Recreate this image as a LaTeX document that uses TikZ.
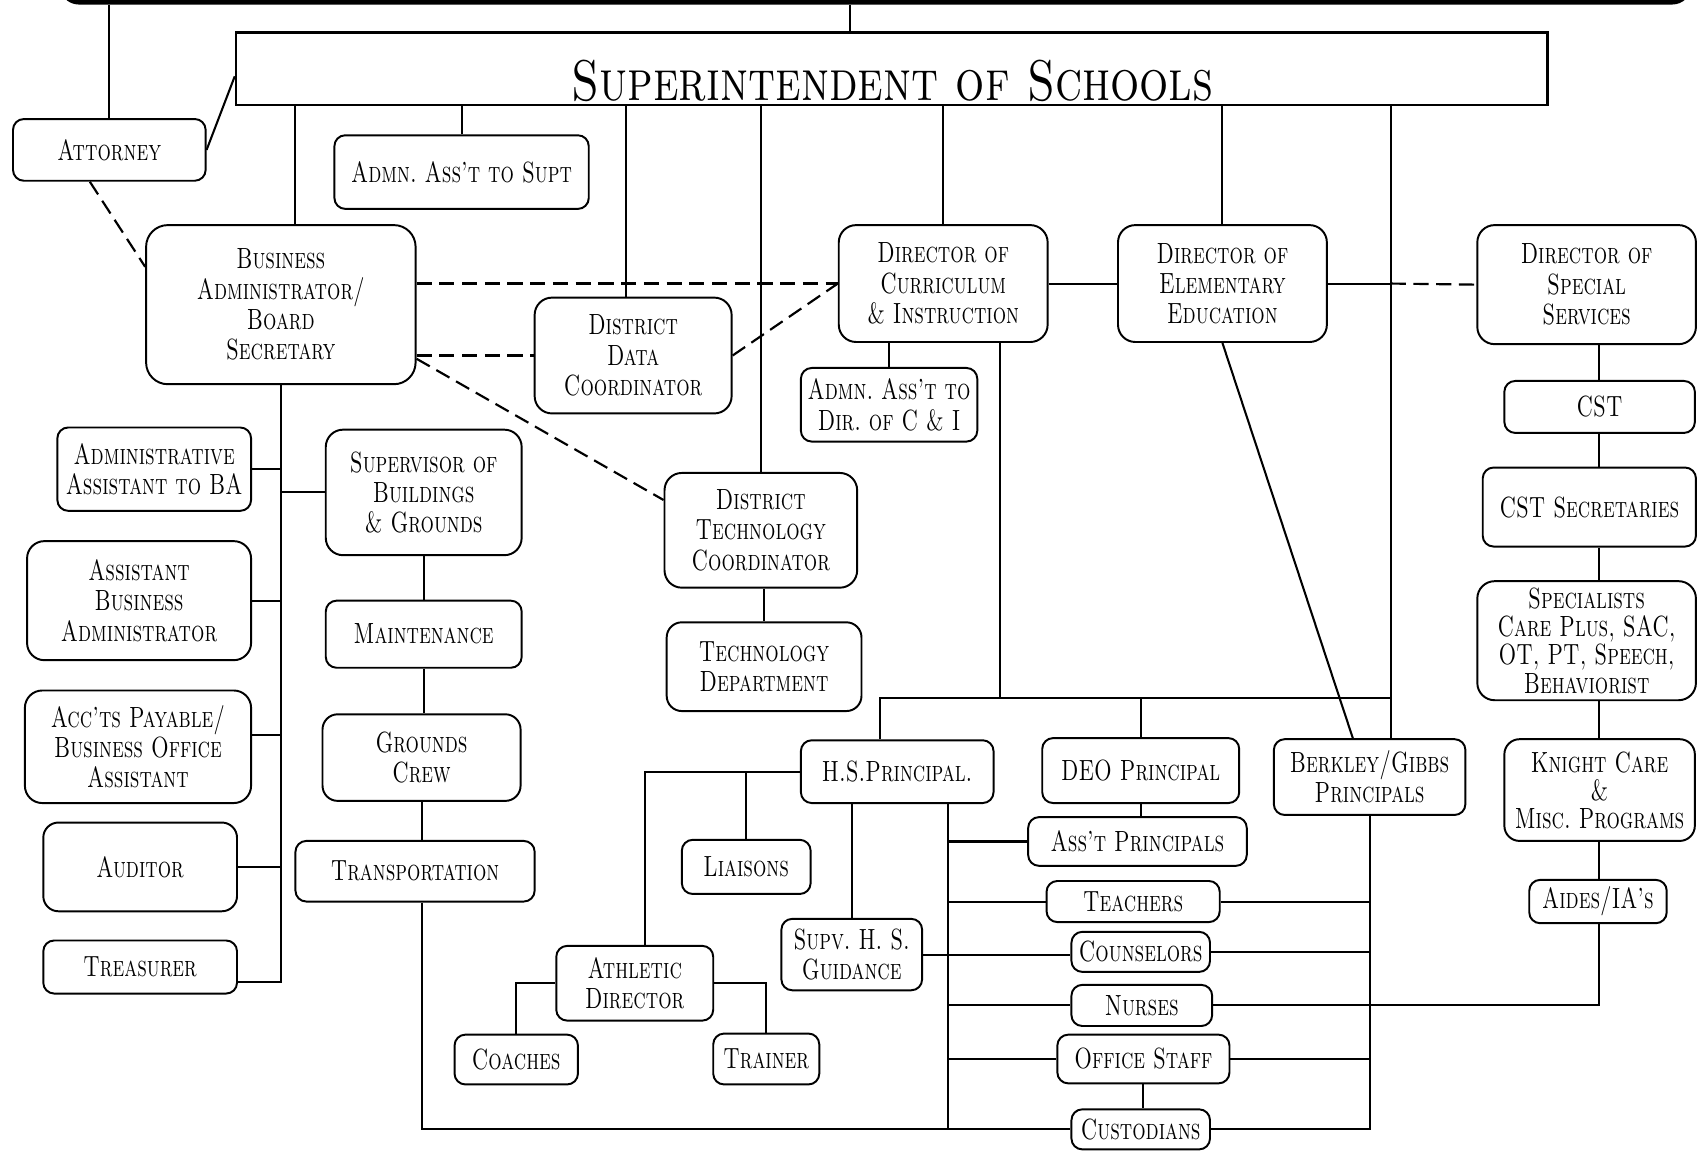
\documentclass[tikz,border=0pt]{standalone}
\usepackage{fontspec}
\newfontfamily\scf{lmromancaps10-regular}[Extension=.otf, FakeStretch=0.72, Ligatures=TeX]
\newfontfamily\scft{lmromancaps10-regular}[Extension=.otf, FakeStretch=0.8, Ligatures=TeX]
\newcommand\lab{\frenchspacing\scf\fontsize{13.5}{14}\selectfont}
\newcommand\labs{\frenchspacing\scf\fontsize{13.5}{13}\selectfont}
\newcommand\ttl{\scft\fontsize{26.5}{28}\selectfont}
\tikzset{
  box/.style={draw, line width=0.9pt, rounded corners=5pt, align=center, inner sep=0pt, font=\lab},
  bx/.style 2 args={box, minimum width=#1pt, minimum height=#2pt},
  conn/.style={line width=0.95pt},
  dashline/.style={line width=1pt, dash pattern=on 7pt off 3.5pt},
}
\begin{document}
\begin{tikzpicture}[x=0.5pt,y=-0.5pt]
\useasboundingbox (0,0) rectangle (1568,1064);
% top board (cut off) and superintendent
\node[draw, line width=2.2pt, rounded corners=8pt, minimum width=752pt, minimum height=31pt] (board) at (809,-29) {};
\node[draw, line width=1.1pt, minimum width=606pt, minimum height=33.5pt] (sup) at (824,63.5) {};
\node[font=\ttl, inner sep=0pt] (suptitle) at (824.5,75) {Superintendent of Schools};
% boxes
\node[bx={89}{28.5}] (attorney) at (101,138.5) {Attorney};
\node[bx={117.5}{34}] (adminsupt) at (426.5,159) {Admn. Ass't to Supt};
\node[bx={124.5}{73.5}, rounded corners=10pt] (ba) at (259.5,281.5) {Business\\Administrator/\\Board\\Secretary};
\node[bx={91}{53.5}, rounded corners=8pt] (ddc) at (585,328.5) {District\\Data\\Coordinator};
\node[bx={96.5}{54}, rounded corners=8pt] (dci) at (871.5,262) {Director of\\Curriculum\\\& Instruction};
\node[bx={96.5}{54}, rounded corners=8pt] (dee) at (1129.5,262) {Director of\\Elementary\\Education};
\node[bx={101}{55}, rounded corners=8pt] (dss) at (1466,263) {Director of\\Special\\Services};
\node[bx={81.5}{34}] (aadir) at (821.5,374) {Admn. Ass't to\\Dir. of C \& I};
\node[bx={89.5}{38.5}] (aaba) at (142.5,433.5) {Administrative\\Assistant to BA};
\node[bx={90.5}{58}, rounded corners=8pt] (sbg) at (391.5,455) {Supervisor of\\Buildings\\\& Grounds};
\node[bx={89}{53}, rounded corners=8pt] (dtc) at (703,490) {District\\Technology\\Coordinator};
\node[bx={88}{24}] (cst) at (1478,376) {CST};
\node[bx={98.5}{36.5}] (csts) at (1468.5,468.5) {CST Secretaries};
\node[bx={103.5}{55}, rounded corners=8pt] (aba) at (128.5,555) {Assistant\\Business\\Administrator};
\node[bx={90.5}{31}] (maint) at (391.5,586) {Maintenance};
\node[bx={90}{41}, rounded corners=7pt] (techdept) at (706,616) {Technology\\Department};
\node[bx={101}{55}, rounded corners=8pt, font=\labs] (spec) at (1466,592) {Specialists\\Care Plus, SAC,\\OT, PT, Speech,\\Behaviorist};
\node[bx={104.5}{52}, rounded corners=8pt] (accts) at (127.5,690) {Acc'ts Payable/\\Business Office\\Assistant};
\node[bx={91.5}{40}, rounded corners=7pt] (grounds) at (389.5,700) {Grounds\\Crew};
\node[bx={89}{29}] (hsp) at (829,713) {H.S.Principal.};
\node[bx={91}{30}] (deo) at (1054,712) {DEO Principal};
\node[bx={88.5}{35}] (berk) at (1265.5,718) {Berkley/Gibbs\\Principals};
\node[bx={88}{47}, rounded corners=7pt, font=\labs] (knight) at (1478,730) {Knight Care\\\&\\Misc. Programs};
\node[bx={89.5}{41}, rounded corners=7pt] (auditor) at (129.5,801) {Auditor};
\node[bx={110.5}{28}] (transp) at (383.5,805) {Transportation};
\node[bx={59.5}{25}] (liaisons) at (689.5,801) {Liaisons};
\node[bx={101}{22.5}] (asstp) at (1051,777.5) {Ass't Principals};
\node[bx={80}{19}] (teachers) at (1047,833) {Teachers};
\node[bx={63.5}{20}] (aides) at (1476.5,833) {Aides/IA's};
\node[bx={65}{33}] (supv) at (787,882) {Supv. H. S.\\Guidance};
\node[bx={64}{18.5}] (couns) at (1054,879.5) {Counselors};
\node[bx={72.5}{34.5}] (athl) at (586.5,908.5) {Athletic\\Director};
\node[bx={89.5}{24.5}] (treas) at (129.5,893.5) {Treasurer};
\node[bx={65}{19}] (nurses) at (1055,929) {Nurses};
\node[bx={57}{23}] (coaches) at (477,979) {Coaches};
\node[bx={49}{23.5}] (trainer) at (708,978.5) {Trainer};
\node[bx={79.5}{22.5}] (office) at (1056.5,978.5) {Office Staff};
\node[bx={64}{18.5}] (cust) at (1054,1043.5) {Custodians};
% helper coordinates
\coordinate (supIn) at (785,30);
\coordinate (busY) at (0,645);
\coordinate (colX) at (1477,0);
\path ([xshift=9.75pt]berk.north) coordinate (berkTop);
\path ([xshift=26.25pt]dci.south) coordinate (ciDrop);
\path ([xshift=23.5pt]hsp.south) coordinate (hsSp);
\path (grounds.south |- transp.south) coordinate (trB);
\path ([xshift=4.75pt]athl.north) coordinate (athT);
\path ([yshift=-6.75pt]treas.east) coordinate (treasJ);
% top connections
\draw[conn] (supIn |- board.south) -- (supIn);
\draw[conn] (attorney.north) -- (attorney.north |- board.south);
\draw[conn] (attorney.east) -- ([yshift=-3.5pt]sup.west);
\draw[dashline] ([xshift=-9pt]attorney.south) -- ([yshift=17.5pt]ba.west);
% superintendent drops
\draw[conn] ([xshift=6.5pt]ba.north) -- ([xshift=6.5pt]ba.north |- sup.south);
\draw[conn] (adminsupt.north) -- (adminsupt.north |- sup.south);
\draw[conn] ([xshift=-3.5pt]ddc.north) -- ([xshift=-3.5pt]ddc.north |- sup.south);
\draw[conn] (dtc.north) -- (dtc.north |- sup.south);
\draw[conn] (dci.north) -- (dci.north |- sup.south);
\draw[conn] (dee.north) -- (dee.north |- sup.south);
\draw[conn] (berkTop) -- (berkTop |- sup.south);
% business administrator dashed links
\draw[dashline] ([yshift=9.75pt]ba.east) -- (dci.west);
\draw[dashline] (ddc.west -| ba.east) -- (ddc.west);
\draw[dashline] ([yshift=-25pt]ba.east) -- ([yshift=14pt]dtc.west);
\draw[dashline] (ddc.east) -- (dci.west);
% directors row
\draw[conn] (dci.east) -- (dee.west);
\draw[conn] (dee.east) -- (dee.east -| berkTop);
\draw[dashline] (dee.east -| berkTop) -- (dss.west);
% curriculum
\draw[conn] (aadir.north) -- (aadir.north |- dci.south);
\draw[conn] (ciDrop) -- (ciDrop |- busY);
\draw[conn] ([xshift=-8pt]hsp.north) -- ([xshift=-8pt]hsp.north |- busY) -- (berkTop |- busY);
\draw[conn] (deo.north) -- (deo.north |- busY);
\draw[conn] (dee.south) -- ([xshift=-7.75pt]berk.north);
\draw[conn] (techdept.north |- dtc.south) -- (techdept.north);
% business spine
\draw[conn] (ba.south) -- (ba.south |- treasJ) -- (treasJ);
\draw[conn] (aaba.east) -- (aaba.east -| ba.south);
\draw[conn] (sbg.west -| ba.south) -- (sbg.west);
\draw[conn] (aba.east) -- (aba.east -| ba.south);
\draw[conn] ([yshift=5.5pt]accts.east) -- ([yshift=5.5pt]accts.east -| ba.south);
\draw[conn] (auditor.east) -- (auditor.east -| ba.south);
% buildings chain
\draw[conn] (sbg.south) -- (maint.north);
\draw[conn] (maint.south) -- (maint.south |- grounds.north);
\draw[conn] (grounds.south) -- (grounds.south |- transp.north);
\draw[conn] (trB) -- (trB |- cust.west) -- (cust.west);
% high school
\draw[conn] (hsp.west) -- (hsp.west -| athT) -- (athT);
\draw[conn] (liaisons.north) -- (liaisons.north |- hsp.west);
\draw[conn] (supv.north) -- (supv.north |- hsp.south);
\draw[conn] (hsSp) -- (hsSp |- cust.west);
\draw[conn] (hsSp |- asstp.west) -- (asstp.west);
\draw[conn] (hsSp |- teachers.west) -- (teachers.west);
\draw[conn] (supv.east) -- (supv.east -| couns.west);
\draw[conn] (hsSp |- nurses.west) -- (nurses.west);
\draw[conn] (hsSp |- office.west) -- (office.west);
\draw[conn] (deo.south) -- (deo.south |- asstp.north);
\draw[conn] (office.south) -- (office.south |- cust.north);
% athletics
\draw[conn] (athl.west) -- (athl.west -| coaches.north) -- (coaches.north);
\draw[conn] (athl.east) -- (athl.east -| trainer.north) -- (trainer.north);
% berkley spine
\draw[conn] (berk.south) -- (berk.south |- cust.east) -- (cust.east);
\draw[conn] (teachers.east) -- (teachers.east -| berk.south);
\draw[conn] (couns.east) -- (couns.east -| berk.south);
\draw[conn] (office.east) -- (office.east -| berk.south);
% special services column
\draw[conn] (dss.south -| colX) -- (cst.north -| colX);
\draw[conn] (cst.south -| colX) -- (csts.north -| colX);
\draw[conn] (csts.south -| colX) -- (spec.north -| colX);
\draw[conn] (spec.south -| colX) -- (knight.north -| colX);
\draw[conn] (knight.south -| colX) -- (aides.north -| colX);
\draw[conn] (nurses.east) -- (nurses.east -| colX) -- (aides.south -| colX);
\end{tikzpicture}
\end{document}
